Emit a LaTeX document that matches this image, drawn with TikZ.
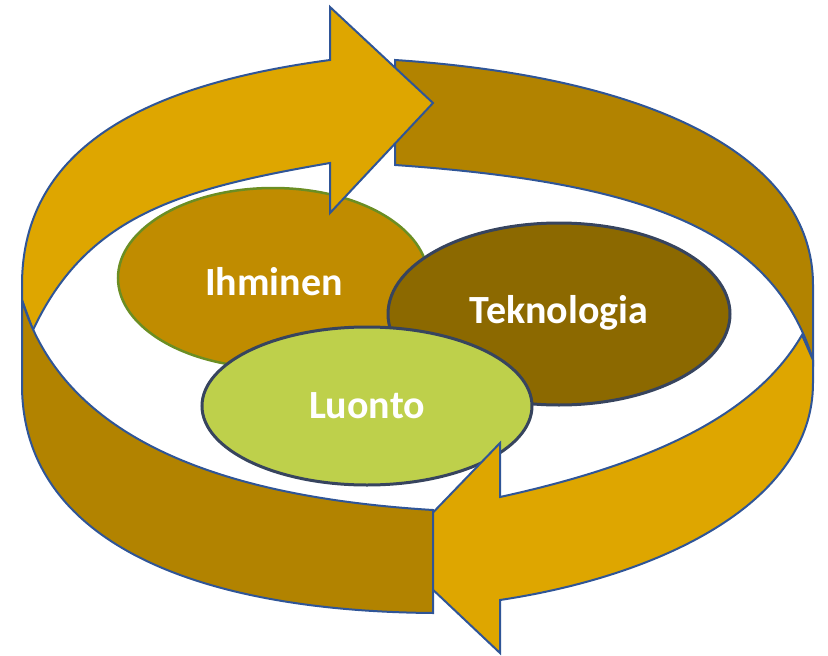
\documentclass[tikz,border=0pt]{standalone}
\usepackage{fontspec}
\setmainfont{Carlito}
\definecolor{goldband}{RGB}{222,166,0}
\definecolor{brownband}{RGB}{178,131,0}
\definecolor{bandblue}{RGB}{47,85,151}
\definecolor{ihmfill}{RGB}{192,140,0}
\definecolor{ihmline}{RGB}{107,142,35}
\definecolor{tekfill}{RGB}{140,105,0}
\definecolor{darkline}{RGB}{55,68,94}
\definecolor{luofill}{RGB}{190,208,75}
\tikzset{
  band/.style={draw=bandblue, line width=2pt, line join=miter},
  goldpart/.style={band, fill=goldband},
  brownpart/.style={band, fill=brownband},
  lbl/.style={text=white, font=\fontsize{40}{48}\selectfont\bfseries, anchor=base, inner sep=0pt}
}
\begin{document}
\begin{tikzpicture}[x=1pt,y=-1pt]
\useasboundingbox (0,0) rectangle (828,656);
% top-right brown band
\path[brownpart] (395,60) .. controls (645,76.5) and (813,153) .. (813,285)
  -- (813,360) .. controls (773,230) and (645,182.5) .. (395,165) -- cycle;
% ellipses
\draw[fill=ihmfill, draw=ihmline, line width=2.5pt] (273,278) ellipse [x radius=155, y radius=90];
\draw[fill=tekfill, draw=darkline, line width=3pt] (559,314) ellipse [x radius=171, y radius=91];
\draw[fill=luofill, draw=darkline, line width=3pt] (367,406) ellipse [x radius=165, y radius=79];
\node[lbl] (ihminen) at (274,295) {Ihminen};
\node[lbl] (teknologia) at (559,323) {Teknologia};
\node[lbl] (luonto) at (367,418) {Luonto};
% top-left gold arrow
\path[goldpart] (22,285) .. controls (22,145) and (150,84) .. (330,60)
  -- (330,7) -- (433,103) -- (330,213) -- (330,163)
  .. controls (180,189) and (87,215) .. (33,330) -- (22,300) -- cycle;
% bottom-right gold arrow
\path[goldpart] (802,335) -- (813,360) -- (813,383)
  .. controls (813,503) and (660,576) .. (500,600)
  -- (500,653) -- (394,553) -- (500,443) -- (500,497)
  .. controls (660,462) and (757,412) .. (802,335) -- cycle;
% bottom-left brown band
\path[brownpart] (22,300) .. controls (61,430) and (203,496) .. (433,510)
  -- (433,613) .. controls (183,611) and (22,535) .. (22,385) -- cycle;
\end{tikzpicture}
\end{document}
